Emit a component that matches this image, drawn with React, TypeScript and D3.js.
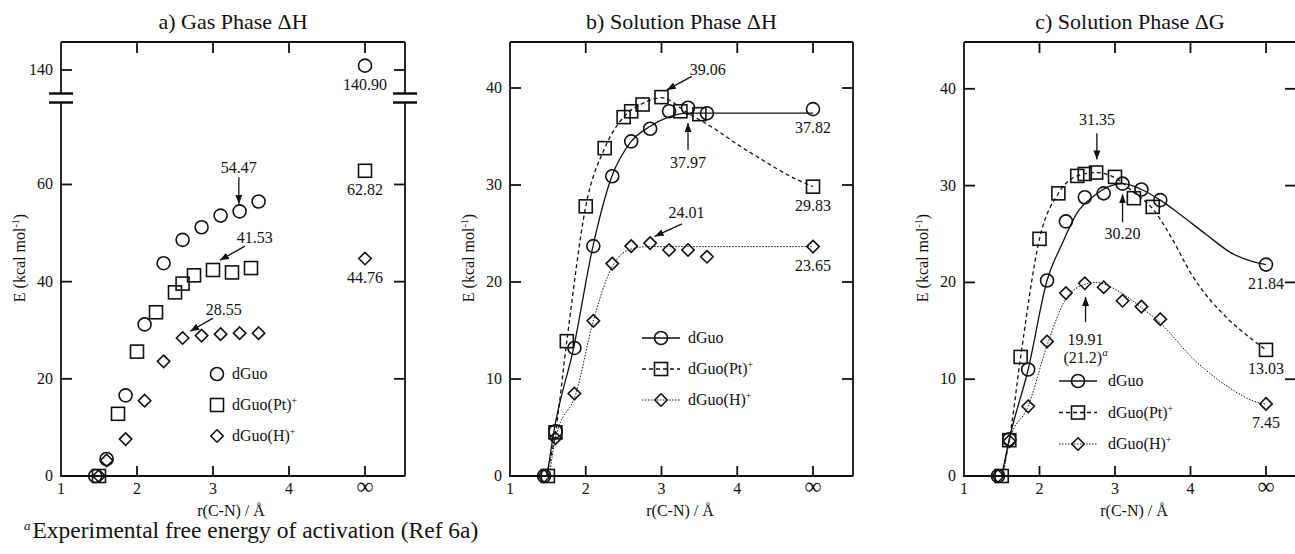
import React from "react";
import * as d3 from "d3";

// r(C-N) in Å; the value 5 stands for the "∞" column
const INF = 5;

// a) gas phase ΔH
const rGasGuo = [1.45, 1.6, 1.85, 2.1, 2.35, 2.6, 2.85, 3.1, 3.35, 3.6, INF];
const eGasGuo = [0, 3.5, 16.6, 31.2, 43.8, 48.6, 51.2, 53.6, 54.47, 56.5, 140.9];
const rGasPt = [1.5, 1.75, 2.0, 2.25, 2.5, 2.6, 2.75, 3.0, 3.25, 3.5, INF];
const eGasPt = [0, 12.8, 25.6, 33.7, 37.8, 39.6, 41.3, 42.4, 41.9, 42.8, 62.82];
const rGasH = [1.5, 1.6, 1.85, 2.1, 2.35, 2.6, 2.85, 3.1, 3.35, 3.6, INF];
const eGasH = [0, 3.2, 7.6, 15.5, 23.6, 28.4, 28.9, 29.2, 29.4, 29.4, 44.76];

// b) and c) solution phase, same grid of distances
const rSol = [1.45, 1.6, 1.85, 2.1, 2.35, 2.6, 2.85, 3.1, 3.35, 3.6, INF];
const rSolPt = [1.5, 1.6, 1.75, 2.0, 2.25, 2.5, 2.6, 2.75, 3.0, 3.25, 3.5, INF];

const eSolHGuo = [0, 4.6, 13.2, 23.7, 30.9, 34.5, 35.8, 37.6, 37.97, 37.4, 37.82];
const eSolHPt = [0, 4.5, 13.9, 27.8, 33.8, 37.0, 37.6, 38.3, 39.06, 37.6, 37.3, 29.83];
const eSolHH = [0, 3.9, 8.5, 16.0, 21.9, 23.7, 24.01, 23.3, 23.3, 22.6, 23.65];

const eSolGGuo = [0, 3.8, 11.0, 20.2, 26.3, 28.8, 29.2, 30.2, 29.6, 28.5, 21.84];
const eSolGPt = [0, 3.7, 12.3, 24.5, 29.2, 31.0, 31.2, 31.35, 30.9, 28.7, 27.8, 13.03];
const eSolGH = [0, 3.6, 7.2, 13.9, 18.9, 19.91, 19.5, 18.1, 17.5, 16.2, 7.45];

// fitted curves drawn through the solution phase points
const fitHGuoR = [1.49, 1.58, 1.84, 2.09, 2.34, 2.59, 2.84, 3.09, 3.35, INF];
const fitHGuoE = [0, 4.6, 13.2, 23.5, 30.8, 34.4, 36.0, 37.0, 37.4, 37.4];
const fitHPtR = [1.48, 1.6, 1.75, 2.0, 2.25, 2.5, 2.75, 3.0, 3.35, 3.7, 4.0, 4.35, 4.7, INF];
const fitHPtE = [0, 4.5, 13.9, 27.8, 33.8, 37.0, 38.4, 39.0, 37.4, 35.8, 34.2, 32.5, 30.9, 29.83];
const fitHHR = [1.52, 1.6, 1.87, 2.1, 2.35, 2.6, 2.85, INF];
const fitHHE = [0, 3.9, 8.5, 16.0, 21.6, 23.4, 23.65, 23.65];

const fitGGuoR = [1.5, 1.6, 1.85, 2.1, 2.3, 2.5, 2.7, 2.95, 3.1, 3.35, 3.6, 3.85, 4.2, 4.55, 4.85, INF];
const fitGGuoE = [0, 3.8, 11.0, 20.2, 24.0, 27.2, 28.8, 30.0, 30.2, 29.6, 28.5, 27.1, 25.0, 23.0, 22.1, 21.84];
const fitGPtR = [1.5, 1.6, 1.75, 2.0, 2.25, 2.5, 2.75, 3.0, 3.25, 3.5, 3.75, 4.0, 4.5, 4.8, INF];
const fitGPtE = [0, 3.7, 12.3, 24.5, 29.2, 31.0, 31.35, 30.8, 29.3, 27.6, 24.6, 21.0, 16.2, 14.2, 13.03];
const fitGHR = [1.52, 1.6, 1.85, 2.1, 2.35, 2.6, 2.75, 3.0, 3.35, 3.6, 4.05, 4.5, 4.85, INF];
const fitGHE = [0, 3.6, 7.2, 13.5, 18.3, 19.8, 20.0, 19.3, 17.4, 15.8, 12.0, 9.2, 7.7, 7.45];

const xTicks = [1, 2, 3, 4, INF];
const xTickLabels = ["1", "2", "3", "4", "∞"];
const gasYTicks = [0, 20, 40, 60, 140];
const solYTicks = [0, 10, 20, 30, 40];
const legendNames = ["dGuo", "dGuo(Pt)", "dGuo(H)"];

const FONT = "'Liberation Serif', 'Times New Roman', serif";
const INK = "#111";
const TOP = 42;
const BOTTOM = 476;

type Shape = "circle" | "square" | "diamond";
const shapes: Shape[] = ["circle", "square", "diamond"];
const dashes = [undefined, "4,3", "1.5,1.5"];
const widths = [1.3, 1.3, 1];

function Glyph({ shape, x, y }: { shape: Shape; x: number; y: number }) {
  if (shape === "circle") return <circle cx={x} cy={y} r={6.5} />;
  if (shape === "square") return <rect x={x - 6.5} y={y - 6.5} width={13} height={13} />;
  const s = 6.2;
  return <path d={`M${x},${y - s}L${x + s},${y}L${x},${y + s}L${x - s},${y}Z`} />;
}

type Annot = { text: string; text2?: string; at: [number, number]; from: [number, number]; to: [number, number] };

type PanelProps = {
  title: string;
  left: number;
  right: number;
  unit: number;
  y: any;
  yTicks: number[];
  series: { r: number[]; e: number[] }[];
  fits?: { r: number[]; e: number[] }[];
  legend: { x: number; y: number; step: number; lines: boolean; gap: number };
  annots: Annot[];
  broken?: boolean;
};

function Panel({ title, left, right, unit, y, yTicks, series, fits, legend, annots, broken }: PanelProps) {
  const x = d3.scaleLinear().domain([1, INF]).range([left, left + 4 * unit]);
  const line = d3.line<number>().curve(d3.curveMonotoneX);
  const brk = [93.5, 102.5];

  const frameSide = (px: number) =>
    broken ? (
      <g>
        <line x1={px} x2={px} y1={TOP} y2={brk[0]} />
        <line x1={px} x2={px} y1={brk[1]} y2={BOTTOM} />
        <line x1={px - 12} x2={px + 12} y1={brk[0]} y2={brk[0]} strokeWidth={2.5} />
        <line x1={px - 12} x2={px + 12} y1={brk[1]} y2={brk[1]} strokeWidth={2.5} />
      </g>
    ) : (
      <line x1={px} x2={px} y1={TOP} y2={BOTTOM} />
    );

  return (
    <g fontFamily={FONT} fill={INK}>
      <text x={(left + right) / 2} y={29} fontSize={22} textAnchor="middle">
        {title}
      </text>

      {/* frame and ticks */}
      <g stroke={INK} strokeWidth={1.8} fill="none">
        <line x1={left} x2={right} y1={TOP} y2={TOP} />
        <line x1={left - 1} x2={right} y1={BOTTOM} y2={BOTTOM} strokeWidth={2.2} />
        {frameSide(left)}
        {frameSide(right)}
        {xTicks.slice(1).map((t) => (
          <g key={t}>
            <line x1={x(t)} x2={x(t)} y1={TOP} y2={TOP + 11} />
            <line x1={x(t)} x2={x(t)} y1={BOTTOM} y2={BOTTOM - 10} />
          </g>
        ))}
        {yTicks.slice(1).map((t) => (
          <g key={t}>
            <line x1={left} x2={left + 11} y1={y(t)} y2={y(t)} />
            <line x1={right} x2={right - 11} y1={y(t)} y2={y(t)} />
          </g>
        ))}
      </g>

      <g fontSize={16}>
        {xTicks.map((t, i) => (
          <text
            key={t}
            x={x(t)}
            y={494}
            textAnchor="middle"
            fontSize={t === INF ? 24 : 16}
          >
            {xTickLabels[i]}
          </text>
        ))}
        {yTicks.map((t) => (
          <text key={t} x={left - 8} y={y(t) + 5} textAnchor="end">
            {t}
          </text>
        ))}
        <text x={left + 170} y={516} textAnchor="middle">
          r(C-N) / Å
        </text>
        <text transform={`translate(${left - 36},258) rotate(-90)`} textAnchor="middle">
          E (kcal mol
          <tspan dy={-6} fontSize={10}>
            -1
          </tspan>
          <tspan dy={6}>)</tspan>
        </text>
      </g>

      {/* fitted curves */}
      {fits && (
        <g fill="none" stroke={INK}>
          {fits.map((f, i) => (
            <path
              key={i}
              d={line.x((_, k) => x(f.r[k])).y((d) => y(d))(f.e) || ""}
              strokeWidth={widths[i]}
              strokeDasharray={dashes[i]}
            />
          ))}
        </g>
      )}

      {/* data points */}
      <g fill="none" stroke={INK} strokeWidth={1.6}>
        {series.map((s, i) =>
          s.e.map((v, k) => <Glyph key={`${i}-${k}`} shape={shapes[i]} x={x(s.r[k])} y={y(v)} />)
        )}
      </g>

      {/* values at infinity */}
      <g fontSize={16} textAnchor="middle">
        {series.map((s, i) => {
          const k = s.e.length - 1;
          return (
            <text key={i} x={x(s.r[k])} y={y(s.e[k]) + 24}>
              {s.e[k].toFixed(2)}
            </text>
          );
        })}
      </g>

      {/* annotations */}
      <g fontSize={16} textAnchor="middle">
        {annots.map((a, i) => (
          <g key={i}>
            <text x={x(a.at[0])} y={y(a.at[1]) + 5}>
              {a.text}
            </text>
            {a.text2 && (
              <text x={x(a.at[0])} y={y(a.at[1]) + 23}>
                {a.text2}
                <tspan dy={-7} fontSize={11} fontStyle="italic">
                  a
                </tspan>
              </text>
            )}
            <line
              x1={x(a.from[0])}
              y1={y(a.from[1])}
              x2={x(a.to[0])}
              y2={y(a.to[1])}
              stroke={INK}
              strokeWidth={1.3}
              markerEnd="url(#ah)"
            />
          </g>
        ))}
      </g>

      {/* legend */}
      <g>
        {legendNames.map((n, i) => {
          const ly = legend.y + i * legend.step;
          return (
            <g key={n}>
              {legend.lines && (
                <line
                  x1={legend.x - 19}
                  x2={legend.x + 19}
                  y1={ly}
                  y2={ly}
                  stroke={INK}
                  strokeWidth={widths[i]}
                  strokeDasharray={dashes[i]}
                />
              )}
              <g fill="none" stroke={INK} strokeWidth={1.6}>
                <Glyph shape={shapes[i]} x={legend.x} y={ly} />
              </g>
              <text x={legend.x + legend.gap} y={ly + 5} fontSize={16}>
                {n}
                {i > 0 && (
                  <tspan dy={-6} fontSize={10}>
                    +
                  </tspan>
                )}
              </text>
            </g>
          );
        })}
      </g>
    </g>
  );
}

export default function App() {
  // gas phase: broken axis, 0..78 below the break and 134..146 above it
  const yGas = d3.scaleLinear().domain([0, 77.8, 134.2, 145.8]).range([BOTTOM, 98, 98, TOP]);
  const ySolH = d3.scaleLinear().domain([0, 40]).range([BOTTOM, BOTTOM - 40 * 9.7]);
  const ySolG = d3.scaleLinear().domain([0, 40]).range([BOTTOM, BOTTOM - 40 * 9.68]);

  return (
    <svg
      width={1295}
      height={554}
      viewBox="0 0 1295 554"
      style={{ position: "absolute", left: 0, top: 0, background: "#fff" }}
    >
      <defs>
        <marker
          id="ah"
          viewBox="0 0 9 7"
          refX={9}
          refY={3.5}
          markerWidth={9}
          markerHeight={7}
          markerUnits="userSpaceOnUse"
          orient="auto"
        >
          <path d="M0,0L9,3.5L0,7Z" fill={INK} />
        </marker>
      </defs>

      <Panel
        title="a) Gas Phase ΔH"
        left={61}
        right={405}
        unit={76}
        y={yGas}
        yTicks={gasYTicks}
        broken
        series={[
          { r: rGasGuo, e: eGasGuo },
          { r: rGasPt, e: eGasPt },
          { r: rGasH, e: eGasH },
        ]}
        legend={{ x: 217, y: 374, step: 31, lines: false, gap: 15 }}
        annots={[
          { text: "54.47", at: [3.34, 63.4], from: [3.34, 61.5], to: [3.34, 56.0] },
          { text: "41.53", at: [3.55, 48.9], from: [3.42, 47.3], to: [3.09, 44.4] },
          { text: "28.55", at: [3.14, 34.2], from: [3.0, 32.5], to: [2.7, 29.8] },
        ]}
      />

      <Panel
        title="b) Solution Phase ΔH"
        left={510}
        right={853}
        unit={75.75}
        y={ySolH}
        yTicks={solYTicks}
        series={[
          { r: rSol, e: eSolHGuo },
          { r: rSolPt, e: eSolHPt },
          { r: rSol, e: eSolHH },
        ]}
        fits={[
          { r: fitHGuoR, e: fitHGuoE },
          { r: fitHPtR, e: fitHPtE },
          { r: fitHHR, e: fitHHE },
        ]}
        legend={{ x: 661, y: 338, step: 31, lines: true, gap: 27 }}
        annots={[
          { text: "39.06", at: [3.61, 41.9], from: [3.4, 41.2], to: [3.07, 39.8] },
          { text: "37.97", at: [3.35, 32.3], from: [3.35, 33.6], to: [3.35, 36.4] },
          { text: "24.01", at: [3.33, 27.1], from: [3.27, 26.0], to: [2.91, 24.7] },
        ]}
      />

      <Panel
        title="c) Solution Phase ΔG"
        left={964}
        right={1296}
        unit={75.5}
        y={ySolG}
        yTicks={solYTicks}
        series={[
          { r: rSol, e: eSolGGuo },
          { r: rSolPt, e: eSolGPt },
          { r: rSol, e: eSolGH },
        ]}
        fits={[
          { r: fitGGuoR, e: fitGGuoE },
          { r: fitGPtR, e: fitGPtE },
          { r: fitGHR, e: fitGHE },
        ]}
        legend={{ x: 1078, y: 381, step: 31.5, lines: true, gap: 30 }}
        annots={[
          { text: "31.35", at: [2.76, 36.8], from: [2.76, 35.4], to: [2.76, 32.7] },
          { text: "30.20", at: [3.1, 25.0], from: [3.1, 26.2], to: [3.1, 29.1] },
          { text: "19.91", text2: "(21.2)", at: [2.61, 14.1], from: [2.61, 15.9], to: [2.61, 18.5] },
        ]}
      />

      <text x={24} y={538} fontFamily={FONT} fontSize={23.5} fill={INK}>
        <tspan fontSize={13} fontStyle="italic" dy={-8}>
          a
        </tspan>
        <tspan dy={8} dx={2}>
          Experimental free energy of activation (Ref 6a)
        </tspan>
      </text>
    </svg>
  );
}
